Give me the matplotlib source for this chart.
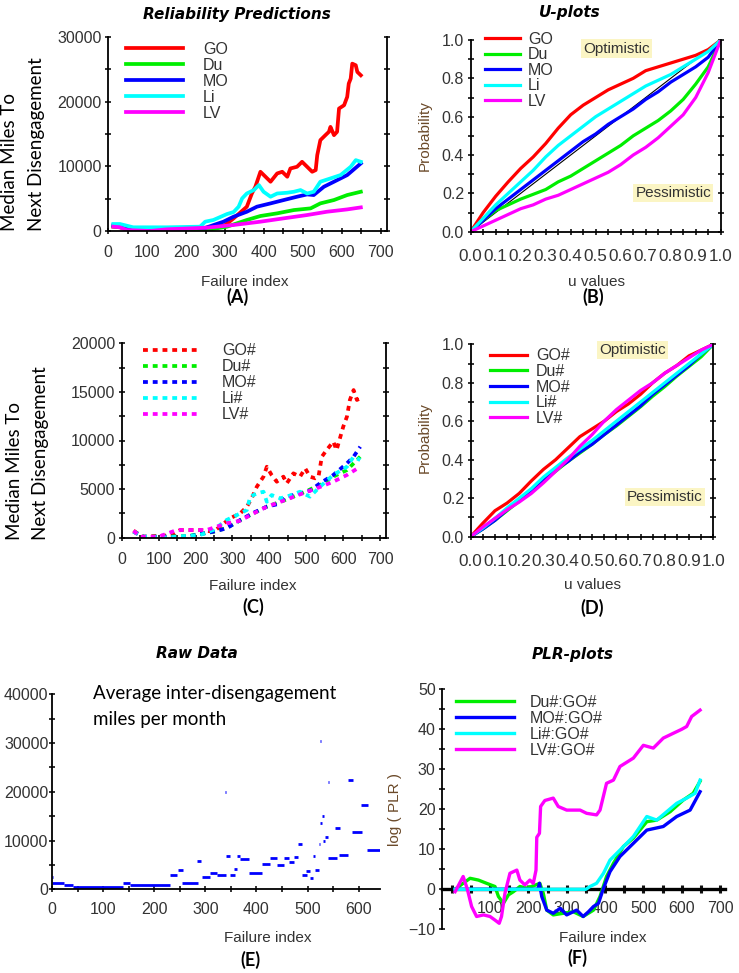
import matplotlib
matplotlib.use('Agg')
import matplotlib.pyplot as plt
from matplotlib.ticker import MultipleLocator, FuncFormatter

# ---------------- data ----------------
models = ['GO', 'Du', 'MO', 'Li', 'LV']
colors = ['#ff0000', '#00ee00', '#0000ff', '#00ffff', '#ff00ff']

# (A) reliability predictions (raw models)
A_GO_x = [13, 30, 47, 107, 150, 253, 300, 322, 356, 369, 378, 391, 404, 417, 434, 447, 460, 468, 485, 498, 511, 524, 533, 537, 545, 558, 567, 571, 580, 588, 593, 606, 614, 618, 623, 627, 636, 640, 649]
A_GO_y = [670, 570, 300, 300, 300, 500, 900, 1950, 3750, 5800, 6850, 9160, 8390, 7620, 8900, 9160, 8390, 9670, 9930, 10700, 9930, 9160, 9420, 11730, 14050, 14820, 15340, 16100, 14820, 15340, 18940, 19450, 20740, 22800, 23570, 25880, 25630, 24600, 24080]
A_Du_x = [13, 30, 64, 150, 253, 305, 356, 391, 434, 477, 520, 545, 580, 614, 649]
A_Du_y = [700, 600, 300, 200, 150, 670, 1700, 2320, 2730, 3240, 3500, 4270, 4790, 5560, 6070]
A_MO_x = [13, 30, 64, 150, 250, 296, 322, 356, 382, 417, 451, 485, 511, 528, 554, 580, 614, 649]
A_MO_y = [900, 800, 400, 300, 500, 1440, 2210, 2980, 3760, 4270, 4790, 5300, 5660, 5560, 6840, 7620, 8650, 10450]
A_Li_x = [13, 30, 64, 150, 236, 249, 270, 305, 322, 335, 344, 356, 374, 387, 399, 417, 434, 460, 477, 494, 511, 528, 545, 571, 597, 623, 636, 649]
A_Li_y = [1080, 1080, 570, 570, 670, 1440, 1700, 2620, 2930, 3760, 5040, 5800, 6330, 7100, 6070, 5300, 5800, 5920, 6070, 6330, 5800, 6070, 7620, 8130, 8650, 9930, 10960, 10700]
A_LV_x = [13, 30, 47, 107, 150, 253, 322, 391, 451, 511, 562, 614, 649]
A_LV_y = [670, 570, 150, 0, 260, 510, 930, 1440, 1960, 2470, 2980, 3340, 3650]

# (B) / (D) u-plots
u_grid = [0, .05, .1, .15, .2, .25, .3, .35, .4, .45, .5, .55, .6, .65, .7, .75, .8, .85, .9, .95, 1]
B_GO = [0, .10, .185, .26, .33, .39, .46, .54, .61, .66, .70, .74, .77, .80, .84, .86, .88, .90, .92, .95, 1]
B_Du = [0, .06, .11, .14, .17, .195, .22, .26, .29, .33, .37, .41, .45, .50, .54, .58, .63, .69, .77, .86, 1]
B_MO = [0, .06, .12, .17, .22, .27, .32, .37, .42, .47, .51, .56, .60, .64, .69, .73, .78, .82, .86, .91, 1]
B_Li = [0, .07, .14, .20, .26, .32, .39, .45, .50, .55, .60, .64, .68, .72, .76, .79, .82, .86, .90, .94, 1]
B_LV = [0, .03, .06, .09, .12, .14, .17, .19, .22, .25, .28, .31, .35, .40, .44, .49, .55, .61, .70, .83, 1]

D_GO = [0, .07, .135, .175, .225, .29, .35, .40, .46, .52, .56, .60, .65, .69, .74, .80, .85, .89, .94, .97, 1]
D_Du = [0, .04, .085, .135, .185, .235, .29, .34, .39, .435, .48, .53, .575, .625, .675, .73, .78, .835, .885, .935, 1]
D_MO = [0, .04, .085, .14, .19, .24, .30, .35, .39, .44, .48, .53, .58, .63, .68, .74, .79, .84, .89, .95, 1]
D_Li = [0, .045, .095, .15, .20, .25, .31, .36, .41, .455, .50, .55, .60, .65, .70, .75, .80, .85, .90, .95, 1]
D_LV = [0, .05, .095, .14, .18, .225, .28, .34, .40, .47, .53, .60, .66, .71, .76, .80, .85, .89, .93, .97, 1]

# (C) reliability predictions (recalibrated models)
C_GO_x = [32, 50, 59, 140, 158, 212, 248, 266, 293, 321, 339, 352, 366, 384, 393, 406, 420, 438, 447, 465, 483, 497, 510, 524, 533, 542, 555, 573, 582, 591, 600, 610, 618, 628, 637, 646]
C_GO_y = [720, 270, 100, 270, 790, 790, 620, 1130, 1990, 2500, 3190, 4050, 5250, 6280, 7300, 6450, 5760, 6280, 5590, 6620, 6280, 7130, 6280, 6110, 6280, 8330, 9020, 9880, 9020, 10220, 11420, 12450, 14170, 15190, 14170, 14340]
C_Du_x = [32, 59, 176, 248, 284, 321, 357, 393, 438, 483, 537, 573, 610, 646]
C_Du_y = [620, 100, 150, 600, 1000, 1800, 2500, 3200, 3800, 4500, 5420, 6280, 6960, 8330]
C_MO_x = [32, 59, 176, 248, 284, 321, 357, 393, 420, 447, 483, 510, 537, 573, 610, 628, 646]
C_MO_y = [620, 100, 100, 620, 960, 1820, 2570, 3190, 3430, 4220, 4560, 4840, 5590, 6450, 7650, 8330, 9360]
C_Li_x = [32, 59, 122, 212, 248, 284, 312, 339, 348, 366, 384, 393, 406, 429, 447, 483, 510, 537, 573, 610, 628, 646]
C_Li_y = [620, 100, 30, 270, 790, 1820, 2330, 2850, 4220, 4560, 4730, 3700, 4390, 4050, 4220, 4730, 4220, 5250, 6450, 7300, 8330, 7990]
C_LV_x = [32, 50, 100, 149, 230, 284, 321, 357, 393, 438, 483, 528, 573, 610, 646]
C_LV_y = [720, 100, 100, 790, 790, 1470, 1750, 2500, 3190, 3810, 4460, 5080, 5760, 6450, 7300]

# (E) raw data: monthly average inter-disengagement miles (segments)
E_x0 = [0, 0, 22, 41, 139, 152, 231, 247, 254, 283, 293, 308, 322, 339, 340, 348, 355, 361, 368, 386, 410, 427, 440, 453, 463, 473, 481, 489, 497, 504, 510, 515, 522, 525, 525, 528, 531, 535, 540, 541, 554, 561, 579, 587, 605, 616]
E_x1 = [2, 22, 41, 139, 152, 231, 244, 257, 286, 291, 309, 322, 340, 341, 348, 358, 361, 368, 386, 410, 427, 440, 453, 463, 473, 482, 489, 499, 504, 510, 515, 522, 525, 527, 528, 533, 535, 541, 542, 558, 564, 580, 589, 607, 618, 642]
E_v = [2500, 1350, 900, 550, 1350, 900, 3000, 4000, 1350, 5800, 2500, 3300, 3000, 20000, 6800, 3000, 4200, 6800, 6200, 3300, 5200, 6400, 5000, 6400, 5600, 6700, 9200, 3000, 3800, 2400, 6900, 4000, 9300, 30500, 13600, 15000, 10000, 10800, 22000, 6400, 12600, 7000, 22500, 11800, 17300, 8000]

# (F) PLR plots
F_labels = ['Du#:GO#', 'MO#:GO#', 'Li#:GO#', 'LV#:GO#']
F_Du_x = [9, 30, 48, 70, 91, 113, 122, 135, 148, 161, 178, 196, 217, 230, 239, 248, 265, 291, 317, 343, 370, 387, 404, 422, 448, 474, 509, 535, 570, 604, 630, 648]
F_Du_y = [0, 1.5, 2.75, 2.3, 1.5, 0.7, -1.8, -3.5, -1.4, -0.6, 0.7, 0.3, 1, 1.5, -1, -5.2, -6.4, -6, -5.6, -6.8, -5.2, -1.8, 3.2, 6.5, 10.7, 12.8, 16.9, 17.3, 19.4, 22.3, 24, 27]
F_MO_x = [9, 225, 229, 235, 248, 265, 283, 300, 326, 343, 357, 370, 383, 396, 413, 439, 474, 509, 552, 587, 622, 648]
F_MO_y = [0, 0, 1.5, -1.8, -5.2, -6, -4.75, -6.4, -5.2, -6.8, -5.6, -4.3, -3.5, 0.25, 4.4, 8.2, 11.5, 14.8, 15.7, 18.2, 19.8, 24.4]
F_Li_x = [9, 350, 361, 378, 396, 413, 439, 474, 509, 535, 561, 587, 613, 635, 648]
F_Li_y = [0, 0, 0.7, 1.5, 4, 7.3, 9.8, 13.2, 18.2, 17.3, 19.4, 21.5, 22.8, 24, 27.3]
F_LV_x = [9, 30, 41, 52, 65, 83, 100, 113, 124, 130, 139, 152, 170, 178, 191, 204, 213, 220, 222, 229, 232, 243, 265, 278, 300, 335, 352, 378, 387, 404, 422, 439, 474, 500, 526, 552, 578, 600, 613, 626, 648]
F_LV_y = [-0.6, 3.2, 0, -4.3, -6.8, -6.4, -6.8, -7.7, -8.5, -6.8, -1, 4, 4.8, 2.3, 1.1, 2.3, 1.5, 4.8, 13, 14, 20.7, 22.2, 22.8, 20.7, 19.8, 19.8, 19, 18.6, 19.8, 26.5, 27.3, 30.7, 32.8, 36, 35.3, 37.8, 39, 40, 40.7, 43.2, 44.8]

# ---------------- figure ----------------
plt.rcParams['font.family'] = ['Liberation Sans', 'DejaVu Sans']
W, H = 739, 973
fig = plt.figure(figsize=(W / 100, H / 100), dpi=100)

TICK_C = '#333333'
LAB_C = '#6b4a2a'
TITLE_KW = dict(family='DejaVu Sans', fontweight='bold', fontstyle='italic', fontsize=11, color='black', ha='center', va='center')
CAL_KW = dict(family='Lato', color='black')


def fx(x):
    return x / W


def fy(y):
    return 1 - y / H


def rect(l, t, r, b):
    return [l / W, 1 - b / H, (r - l) / W, (b - t) / H]


def ftext(x, y, s, **kw):
    fig.text(fx(x), fy(y), s, **kw)


def style(ax, right=True, xpad=8, ypad=2.6, length=4.3):
    ax.spines['top'].set_visible(False)
    ax.spines['right'].set_visible(right)
    for s in ax.spines.values():
        s.set_linewidth(1.3)
    ax.tick_params(which='both', direction='inout', length=length, width=1.2,
                   color='#111111', labelcolor=TICK_C, labelsize=11.5,
                   right=right, top=False)
    ax.tick_params(axis='x', which='both', pad=xpad)
    ax.tick_params(axis='y', which='both', pad=ypad)
    ax.set_facecolor('none')


def legend(ax, handles, labels, x_left, row1, step, hlen_px, gap_px, fs=11.5):
    fs_px = fs * 100 / 72
    text_h = 1.16 * fs_px
    ax.legend(handles, labels, loc='upper left',
              bbox_to_anchor=(fx(x_left), fy(row1 - text_h / 2)),
              bbox_transform=fig.transFigure, frameon=False, borderpad=0,
              borderaxespad=0, handlelength=hlen_px / fs_px,
              handletextpad=gap_px / fs_px,
              labelspacing=(step - text_h) / fs_px,
              prop={'family': 'Liberation Sans', 'size': fs}, labelcolor=TICK_C)


def ylabel2(xb1, xb2, ybot, fs=13.5):
    ftext(xb1, ybot, 'Median Miles To', rotation=90, rotation_mode='anchor',
          ha='left', va='baseline', fontsize=fs, **CAL_KW)
    ftext(xb2, ybot, 'Next Disengagement', rotation=90, rotation_mode='anchor',
          ha='left', va='baseline', fontsize=fs, **CAL_KW)


# ---- (A) ----
axA = fig.add_axes(rect(108.3, 37, 386.5, 231))
hA = []
for xs, ys, c in zip([A_GO_x, A_Du_x, A_MO_x, A_Li_x, A_LV_x],
                     [A_GO_y, A_Du_y, A_MO_y, A_Li_y, A_LV_y], colors):
    hA.append(axA.plot(xs, ys, color=c, lw=2.7)[0])
axA.set_xlim(0, 715)
axA.set_ylim(0, 30000)
axA.xaxis.set_major_locator(MultipleLocator(100))
axA.xaxis.set_minor_locator(MultipleLocator(50))
axA.yaxis.set_major_locator(MultipleLocator(10000))
axA.yaxis.set_minor_locator(MultipleLocator(5000))
style(axA)
legend(axA, hA, models, 126, 51, 19.5, 57, 20)
ftext(237, 15, 'Reliability Predictions', **TITLE_KW)
ftext(245, 282, 'Failure index', ha='center', va='center', fontsize=11, color=TICK_C)
ftext(237, 297, '(A)', ha='center', va='center', fontsize=13, fontweight='bold', **CAL_KW)
ylabel2(15, 42, 231)


def uplot(ax, series, labels, opt, pes, leg):
    ax.plot([0, 1], [0, 1], color='black', lw=0.8, zorder=1)
    hs = []
    for s, c in zip(series, colors):
        hs.append(ax.plot(u_grid, s, color=c, lw=2.3, zorder=2)[0])
    ax.set_xlim(0, 1)
    ax.set_ylim(0, 1)
    ax.xaxis.set_major_locator(MultipleLocator(0.1))
    ax.xaxis.set_minor_locator(MultipleLocator(0.05))
    ax.yaxis.set_major_locator(MultipleLocator(0.2))
    ax.yaxis.set_minor_locator(MultipleLocator(0.1))
    ax.xaxis.set_major_formatter(FuncFormatter(lambda v, p: '%.1f' % v))
    ax.yaxis.set_major_formatter(FuncFormatter(lambda v, p: '%.1f' % v))
    style(ax, xpad=10)
    ax.tick_params(axis='x', labelsize=12.3)
    legend(ax, hs, labels, *leg)
    box = dict(facecolor='#fbf5c4', edgecolor='none', pad=1.5)
    ax.text(opt[0], opt[1], 'Optimistic', fontsize=11, color=TICK_C, ha='center', va='center', bbox=box)
    ax.text(pes[0], pes[1], 'Pessimistic', fontsize=11, color=TICK_C, ha='center', va='center', bbox=box)


# ---- (B) ----
axB = fig.add_axes(rect(470.7, 40, 720.7, 231.7))
uplot(axB, [B_GO, B_Du, B_MO, B_Li, B_LV], models, (0.585, 0.955), (0.81, 0.2),
      (485, 41, 19, 35, 8))
ftext(570, 12, 'U-plots', **TITLE_KW)
ftext(597, 282, 'u values', ha='center', va='center', fontsize=11, color=TICK_C)
ftext(593, 297, '(B)', ha='center', va='center', fontsize=13, fontweight='bold', **CAL_KW)
ftext(425, 136, 'Probability', rotation=90, ha='center', va='center', fontsize=11, color=LAB_C)

# ---- (C) ----
axC = fig.add_axes(rect(121.7, 343.3, 385.7, 537.7))
hC = []
for xs, ys, c in zip([C_GO_x, C_Du_x, C_MO_x, C_Li_x, C_LV_x],
                     [C_GO_y, C_Du_y, C_MO_y, C_Li_y, C_LV_y], colors):
    hC.append(axC.plot(xs, ys, color=c, lw=2.7, dashes=(1.3, 1.3),
                       dash_capstyle='butt')[0])
axC.set_xlim(0, 715)
axC.set_ylim(0, 20000)
axC.xaxis.set_major_locator(MultipleLocator(100))
axC.xaxis.set_minor_locator(MultipleLocator(50))
axC.yaxis.set_major_locator(MultipleLocator(5000))
axC.yaxis.set_minor_locator(MultipleLocator(2500))
style(axC)
legend(axC, hC, [m + '#' for m in models], 143, 352.7, 19.5, 54, 25)
ftext(253, 586, 'Failure index', ha='center', va='center', fontsize=11, color=TICK_C)
ftext(253, 607, '(C)', ha='center', va='center', fontsize=13, fontweight='bold', **CAL_KW)
ylabel2(20, 46, 540)

# ---- (D) ----
axD = fig.add_axes(rect(470.7, 344.3, 713.3, 536.7))
uplot(axD, [D_GO, D_Du, D_MO, D_Li, D_LV], [m + '#' for m in models], (0.666, 0.97), (0.80, 0.208),
      (490, 357.7, 19.15, 36.7, 9.3))
ftext(593, 585, 'u values', ha='center', va='center', fontsize=11, color=TICK_C)
ftext(592, 608, '(D)', ha='center', va='center', fontsize=13, fontweight='bold', **CAL_KW)
ftext(425, 438, 'Probability', rotation=90, ha='center', va='center', fontsize=11, color=LAB_C)

# ---- (E) ----
axE = fig.add_axes(rect(52.3, 694.3, 380, 889.3))
axE.hlines(E_v, E_x0, E_x1, color='#0000ff', lw=2.0)
axE.set_xlim(0, 642)
axE.set_ylim(0, 40000)
axE.xaxis.set_major_locator(MultipleLocator(100))
axE.xaxis.set_minor_locator(MultipleLocator(50))
axE.yaxis.set_major_locator(MultipleLocator(10000))
axE.yaxis.set_minor_locator(MultipleLocator(5000))
style(axE, right=False, xpad=7, ypad=0.5)
ftext(197, 653, 'Raw Data', **TITLE_KW)
ftext(92.7, 693, 'Average inter-disengagement', ha='left', va='center', fontsize=13.5, **CAL_KW)
ftext(92.7, 719, 'miles per month', ha='left', va='center', fontsize=13.5, **CAL_KW)
ftext(268, 938, 'Failure index', ha='center', va='center', fontsize=11, color=TICK_C)
ftext(250, 960, '(E)', ha='center', va='center', fontsize=13, fontweight='bold', **CAL_KW)

# ---- (F) ----
axF = fig.add_axes(rect(441.7, 689.3, 725, 929.3))
hF = []
for xs, ys, c in zip([F_Du_x, F_MO_x, F_Li_x, F_LV_x],
                     [F_Du_y, F_MO_y, F_Li_y, F_LV_y], colors[1:]):
    hF.append(axF.plot(xs, ys, color=c, lw=2.4, zorder=3)[0])
axF.set_xlim(-26, 713)
axF.set_ylim(-10, 50)
axF.xaxis.set_major_locator(MultipleLocator(50))
axF.xaxis.set_major_formatter(FuncFormatter(lambda v, p: '%d' % v if (v > 0 and v % 100 == 0) else ''))
axF.yaxis.set_major_locator(MultipleLocator(10))
axF.yaxis.set_minor_locator(MultipleLocator(5))
style(axF, right=False, ypad=2.2)
axF.spines['bottom'].set_position(('data', 0))
axF.spines['bottom'].set_linewidth(2.4)
axF.spines['bottom'].set_zorder(2)
axF.tick_params(axis='x', which='both', length=6, width=2.2, pad=5.5)
legend(axF, hF, F_labels, 456, 704, 19.6, 58.3, 15.7)
ftext(573, 654, 'PLR-plots', **TITLE_KW)
ftext(603, 938, 'Failure index', ha='center', va='center', fontsize=11, color=TICK_C)
ftext(577, 958, '(F)', ha='center', va='center', fontsize=13, fontweight='bold', **CAL_KW)
ftext(395, 810, 'log ( PLR )', rotation=90, ha='center', va='center', fontsize=11, color=LAB_C)

fig.savefig('out.png', dpi=100, facecolor='white')
